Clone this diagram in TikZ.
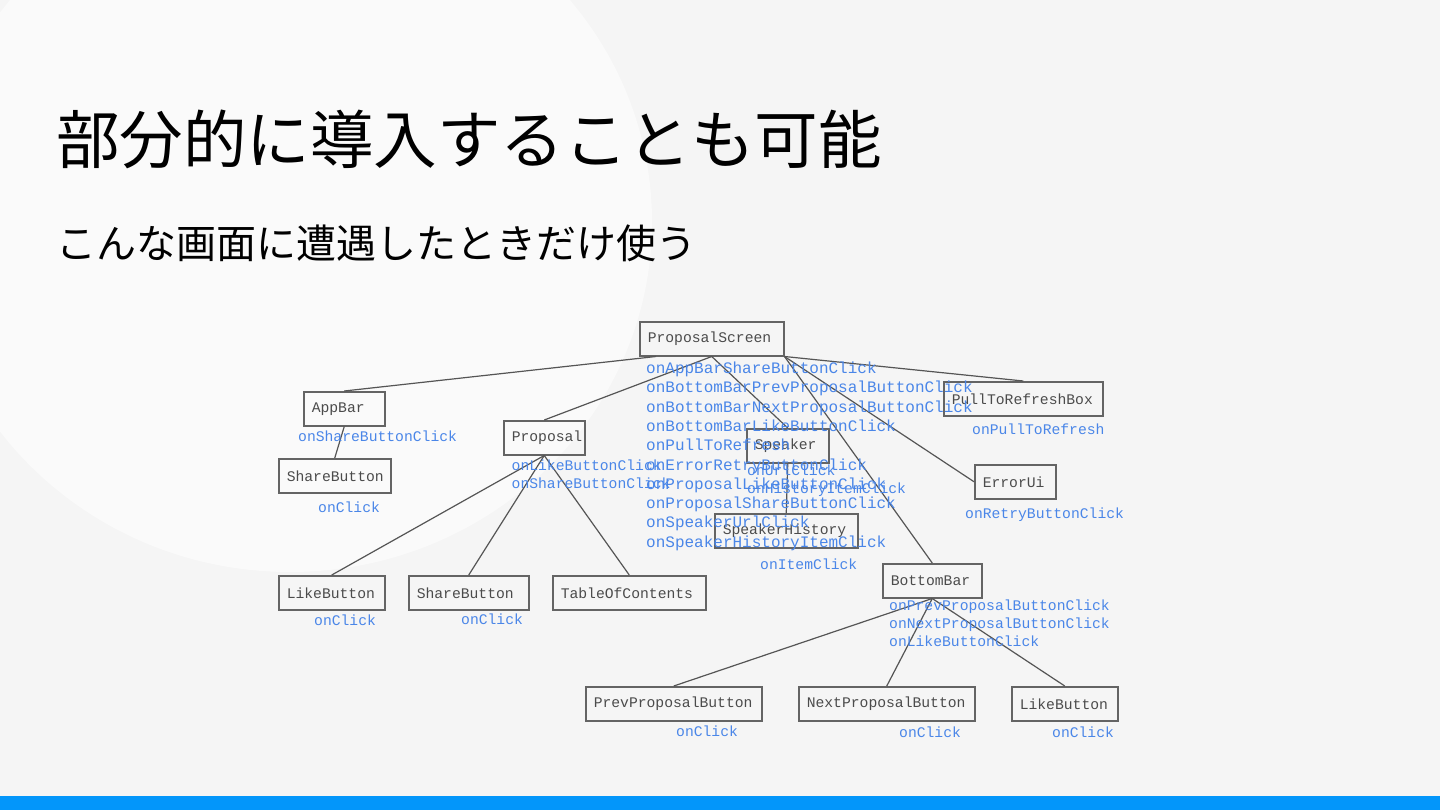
\documentclass[tikz,border=0pt]{standalone}
\usepackage{fontspec}
\setmonofont{Liberation Mono}
\newfontfamily\jpfont{Noto Sans CJK JP}
\definecolor{pagegray}{RGB}{245,245,245}
\definecolor{blobwhite}{RGB}{250,250,250}
\definecolor{linegray}{RGB}{85,85,85}
\definecolor{boxgray}{RGB}{100,100,100}
\definecolor{labelgray}{RGB}{75,75,75}
\definecolor{evblue}{RGB}{74,134,232}
\definecolor{barblue}{RGB}{3,150,250}
\usetikzlibrary{positioning}

\begin{document}
\begin{tikzpicture}[x=1pt, y=-1pt,
    comp/.style={draw=boxgray, line width=1.5pt, text=labelgray, anchor=north west,
      font=\fontsize{14.7}{17}\selectfont\ttfamily, align=left,
      inner xsep=8pt, inner ysep=0pt, minimum height=34pt},
    ev/.style={text=evblue, anchor=base west, inner sep=0pt,
      font=\fontsize{14.7}{17}\selectfont\ttfamily},
    evlist/.style={ev, font=\fontsize{16}{19}\selectfont\ttfamily},
    link/.style={draw=linegray, line width=1.2pt},
  ]
    % slide background
    \useasboundingbox (0,0) rectangle (1440,810);
    \fill[pagegray] (0,0) rectangle (1440,810);
    \begin{scope}
      \clip (0,0) rectangle (1440,810);
      \fill[blobwhite] (290,222) ellipse [x radius=362, y radius=350];
    \end{scope}
    \fill[barblue] (0,796) rectangle (1440,810);

    \node[anchor=base west, inner sep=0pt, font=\jpfont\fontsize{63.5}{70}\selectfont] (title) at (56,164) {部分的に導入することも可能};
    \node[anchor=base west, inner sep=0pt, font=\jpfont\fontsize{40}{46}\selectfont] (subtitle) at (56,259) {こんな画面に遭遇したときだけ使う};

    % components
    \node[comp, text width=128pt] (ps) at (639,321) {ProposalScreen};
    \node[comp, text width=65pt] (appbar) at (303,391) {AppBar};
    \node[comp, text width=96pt] (appshare) at (278,458) {ShareButton};
    \node[comp, text width=65pt] (prop) at (503,420) {Proposal};
    \node[comp, text width=90pt] (proplike) at (278,575) {LikeButton};
    \node[comp, text width=104pt] (propshare) at (408,575) {ShareButton};
    \node[comp, text width=137pt] (toc) at (552,575) {TableOfContents};
    \node[comp, text width=66pt] (speaker) at (746,428) {Speaker};
    \node[comp, text width=127pt] (history) at (714,513) {SpeakerHistory};
    \node[comp, text width=143pt] (ptr) at (943,381) {PullToRefreshBox};
    \node[comp, text width=65pt] (err) at (974,464) {ErrorUi};
    \node[comp, text width=83pt] (bbar) at (882,563) {BottomBar};
    \node[comp, text width=160pt] (prev) at (585,686) {PrevProposalButton};
    \node[comp, text width=160pt] (next) at (798,686) {NextProposalButton};
    \node[comp, text width=90pt] (bblike) at (1011,686) {LikeButton};

    % tree
    \draw[link] ([xshift=17pt]ps.south west) -- (appbar.north);
    \draw[link] (ps.south) -- (prop.north);
    \draw[link] (ps.south) -- (speaker.north);
    \draw[link] (ps.south east) -- (ptr.north);
    \draw[link] (ps.south east) -- (err.west);
    \draw[link] (ps.south east) -- (bbar.north);
    \draw[link] (appbar.south) -- (appshare.north);
    \draw[link] (prop.south) -- (proplike.north);
    \draw[link] (prop.south) -- (propshare.north);
    \draw[link] (prop.south) -- (toc.north);
    \draw[link] (speaker.south) -- (history.north);
    \draw[link] (bbar.south) -- (prev.north);
    \draw[link] (bbar.south) -- (next.north);
    \draw[link] (bbar.south) -- (bblike.north);

    % callbacks
    \foreach \cb [count=\i] in {onAppBarShareButtonClick, onBottomBarPrevProposalButtonClick,
        onBottomBarNextProposalButtonClick, onBottomBarLikeButtonClick, onPullToRefresh,
        onErrorRetryButtonClick, onProposalLikeButtonClick, onProposalShareButtonClick,
        onSpeakerUrlClick, onSpeakerHistoryItemClick}
      \node[evlist] (psev\i) at (646, 354.2+19.3*\i) {\cb};
    \node[ev] (appbarev) at (298,441) {onShareButtonClick};
    \node[ev] (appshareev) at (318,512) {onClick};
    \node[ev] (propev1) at (511.5,470) {onLikeButtonClick};
    \node[ev] (propev2) at (511.5,488) {onShareButtonClick};
    \node[ev] (proplikeev) at (314,625) {onClick};
    \node[ev] (propshareev) at (461,624) {onClick};
    \node[ev] (speakerev1) at (747,475) {onUrlClick};
    \node[ev] (speakerev2) at (747,493) {onHistoryItemClick};
    \node[ev] (historyev) at (760,569) {onItemClick};
    \node[ev] (ptrev) at (972,434) {onPullToRefresh};
    \node[ev] (errev) at (965,518) {onRetryButtonClick};
    \foreach \cb [count=\i] in {onPrevProposalButtonClick, onNextProposalButtonClick, onLikeButtonClick}
      \node[ev] (bbarev\i) at (889, 591.8+18.2*\i) {\cb};
    \node[ev] (prevev) at (676,736) {onClick};
    \node[ev] (nextev) at (899,737) {onClick};
    \node[ev] (bblikeev) at (1052,737) {onClick};
\end{tikzpicture}
\end{document}
